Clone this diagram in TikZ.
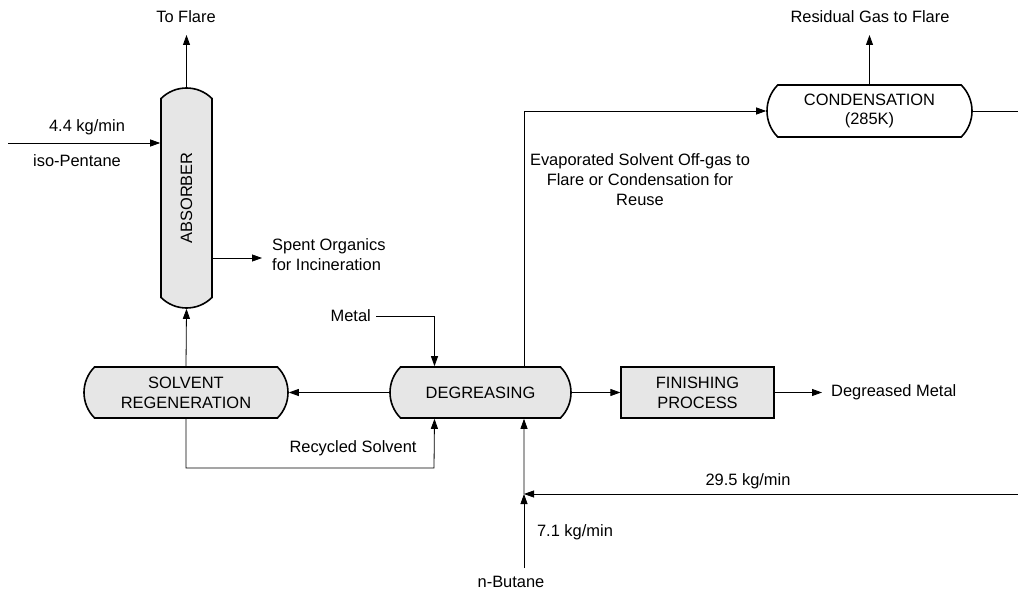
\documentclass[tikz,border=0pt]{standalone}
\usepackage{fontspec}
\setmainfont{Liberation Sans}
\usetikzlibrary{arrows.meta,shapes.misc,calc}
\definecolor{boxfill}{HTML}{E6E6E6}
\begin{document}
\begin{tikzpicture}[x=1bp,y=-1bp,
  every node/.style={font=\fontsize{16.5}{20}\selectfont},
  unit/.style={draw, line width=1.6bp, rounded rectangle, rounded rectangle arc length=90,
    inner sep=0pt, align=center, fill=boxfill},
  plainbox/.style={draw, line width=1.2bp, rectangle, inner sep=0pt, align=center, fill=boxfill},
  flow/.style={line width=0.8bp, -{Triangle[length=10bp,width=7bp]}},
  line/.style={line width=0.8bp},
  lbl/.style={inner sep=0pt}]
\useasboundingbox (0,0) rectangle (1018,591);

% process units
\node[unit, rotate=90, minimum width=220bp, minimum height=51bp] (abs) at (186.5,198) {ABSORBER};
\node[unit, minimum width=204bp, minimum height=51bp] (regen) at (186,392.5) {SOLVENT\\REGENERATION};
\node[unit, minimum width=181bp, minimum height=51bp] (deg) at (480.5,392.5) {DEGREASING};
\node[plainbox, minimum width=153bp, minimum height=51bp] (fin) at (697.5,392.5) {FINISHING\\PROCESS};
\node[unit, fill=white, minimum width=205bp, minimum height=52bp] (cond) at (869.5,111) {CONDENSATION\\(285K)};

% stream end points
\coordinate (flareA) at (186.5,35);
\coordinate (pentIn) at (8,143);
\coordinate (spentOut) at (262,258);
\coordinate (metalOut) at (822,392.5);
\coordinate (flareC) at (869.5,35);
\coordinate (condOut) at (1018,111);
\coordinate (recIn) at (1018,494);
\coordinate (mix) at (524,494);
\coordinate (butIn) at (524,568);
\coordinate (degTopL) at ([xshift=-46bp]deg.north);
\coordinate (degTopR) at ([xshift=43.5bp]deg.north);
\coordinate (degBotL) at ([xshift=-46bp]deg.south);
\coordinate (degBotR) at ([xshift=43.5bp]deg.south);

% labels
\node[lbl] (tflare) at (186,17) {To Flare};
\node[lbl] (rflare) at (870,17) {Residual Gas to Flare};
\node[lbl] (rate44) at (87,127) {4.4 kg/min};
\node[lbl] (pent) at (77,161) {iso-Pentane};
\node[lbl, anchor=west, align=left] (spent) at (272,255) {Spent Organics\\for Incineration};
\node[lbl, anchor=east] (metal) at (371,316) {Metal};
\node[lbl, align=center] (evap) at (640,180) {Evaporated Solvent Off-gas to\\Flare or Condensation for\\Reuse};
\node[lbl, anchor=west] (dmetal) at (831,392) {Degreased Metal};
\node[lbl] (recyc) at (353,448) {Recycled Solvent};
\node[lbl] (rate295) at (748,481) {29.5 kg/min};
\node[lbl] (rate71) at (575,532) {7.1 kg/min};
\node[lbl] (butane) at (511,582) {n-Butane};

% streams
\draw[flow] (abs.east) -- (flareA);
\draw[flow] (pentIn) -- (abs.north |- pentIn);
\draw[flow] (abs.south |- spentOut) -- (spentOut);
\draw[flow] (regen.north) -- (abs.west);
\draw[flow] (deg.west) -- (regen.east);
\draw[flow] (deg.east) -- (fin.west);
\draw[flow] (fin.east) -- (metalOut);
\draw[flow] ([xshift=5bp]metal.east) -| (degTopL);
\draw[flow] (degTopR) |- (cond.west);
\draw[flow] (cond.north) -- (flareC);
\draw[line] (cond.east) -- (condOut);
\draw[flow] (recIn) -- (mix);
\draw[flow] (butIn) -- (mix);
\draw[flow] (mix) -- (degBotR);
\draw[flow] (regen.south) |- (434,468) -- (degBotL);
\end{tikzpicture}
\end{document}
